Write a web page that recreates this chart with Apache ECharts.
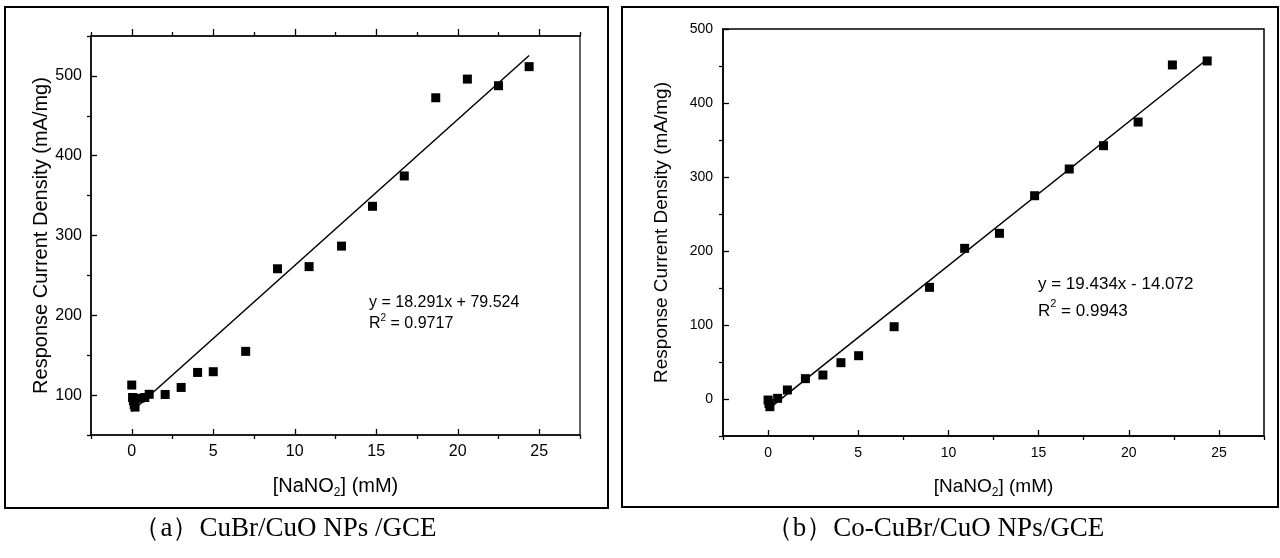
<!DOCTYPE html>
<html>
<head>
<meta charset="utf-8">
<script src="https://cdn.jsdelivr.net/npm/echarts@6/dist/echarts.min.js"></script>
<style>
html,body{margin:0;padding:0;background:#fff;}
#c{width:1280px;height:558px;}
</style>
</head>
<body>
<div id="c"></div>
<script>
// Panel (a) CuBr/CuO NPs /GCE
var xA = [0, 0.05, 0.1, 0.15, 0.2, 0.5, 0.8, 1.07, 2.05, 3.03, 4.04, 5.0, 6.99, 8.94, 10.88, 12.87, 14.77, 16.72, 18.65, 20.59, 22.5, 24.38];
var yA = [112.6, 97, 93, 88, 85, 96, 97, 101, 100.8, 109.6, 128.4, 129.3, 154.8, 258.3, 261, 286.7, 336.6, 374.6, 472.6, 496, 487.7, 511.6];
var fitA = [[0, 79.5], [24.38, 525.5]];
var eqA = 'y = 18.291x + 79.524';
var r2A = '0.9717';
// Panel (b) Co-CuBr/CuO NPs/GCE
var xB = [0, 0.05, 0.1, 0.53, 1.07, 2.07, 3.04, 4.04, 5.02, 6.99, 8.95, 10.9, 12.83, 14.78, 16.7, 18.6, 20.52, 22.42, 24.35];
var yB = [-1.4, -6, -10.4, 0.9, 12.2, 27.5, 32.4, 49.1, 58.5, 97.7, 150.9, 203.6, 223.9, 274.7, 310.8, 342.3, 374.3, 451.4, 456.8];
var fitB = [[0.1, -12.1], [24.35, 459.1]];
var eqB = 'y = 19.434x - 14.072';
var r2B = '0.9943';
// Axis ticks
var xMajor = [0, 5, 10, 15, 20, 25];
var xMinor = [-2.5, 2.5, 7.5, 12.5, 17.5, 22.5, 27.5];
var yMajorA = [100, 200, 300, 400, 500];
var yMinorA = [50, 150, 250, 350, 450, 550];
var yMajorB = [0, 100, 200, 300, 400, 500];
var yMinorB = [-50, 50, 150, 250, 350, 450];
var xTitle = '[NaNO{sub|2}] (mM)';
var yTitle = 'Response Current Density (mA/mg)';
var capA = '（a）CuBr/CuO NPs /GCE';
var capB = '（b）Co-CuBr/CuO NPs/GCE';

var FF = "'Liberation Sans', Arial, sans-serif";
var chart = echarts.init(document.getElementById('c'), null, {renderer: 'canvas'});

function pairs(xs, ys) { return xs.map(function (x, i) { return [x, ys[i]]; }); }

function xAxes(grid, fs, titleFs, gap, labelMargin, withTop) {
  var line = {show: true, onZero: false, lineStyle: {color: '#000', width: 1.5}};
  var axes = [
    {type: 'value', gridIndex: grid, position: 'bottom', min: -2.5, max: 27.5,
     axisLine: line, splitLine: {show: false},
     axisTick: {show: true, inside: true, length: 6, customValues: xMajor, lineStyle: {color: '#000', width: 1.3}},
     axisLabel: {customValues: xMajor, color: '#000', fontSize: fs, fontFamily: FF, margin: labelMargin},
     name: xTitle, nameLocation: 'middle', nameGap: gap,
     nameTextStyle: {color: '#000', fontSize: titleFs, fontFamily: FF,
       rich: {sub: {fontSize: Math.round(titleFs * 0.62), fontFamily: FF, color: '#000', verticalAlign: 'bottom', padding: [Math.round(titleFs * 0.7), 0, 0, 0]}}}},
    {type: 'value', gridIndex: grid, position: 'bottom', min: -2.5, max: 27.5,
     axisLine: {show: false, onZero: false}, splitLine: {show: false},
     axisTick: {show: true, inside: false, length: 4, customValues: xMinor, lineStyle: {color: '#000', width: 1.3}},
     axisLabel: {show: false}}
  ];
  if (withTop) {
    axes.push({type: 'value', gridIndex: grid, position: 'top', min: -2.5, max: 27.5,
      axisLine: line, splitLine: {show: false},
      axisTick: {show: true, inside: false, length: 7, customValues: xMajor, lineStyle: {color: '#000', width: 1.3}},
      axisLabel: {show: false}});
    axes.push({type: 'value', gridIndex: grid, position: 'top', min: -2.5, max: 27.5,
      axisLine: {show: false, onZero: false}, splitLine: {show: false},
      axisTick: {show: true, inside: false, length: 4, customValues: xMinor, lineStyle: {color: '#000', width: 1.3}},
      axisLabel: {show: false}});
  }
  return axes;
}

function yAxes(grid, mn, mx, major, minor, fs, titleFs, gap, labelMargin) {
  return [
    {type: 'value', gridIndex: grid, position: 'left', min: mn, max: mx,
     axisLine: {show: true, onZero: false, lineStyle: {color: '#000', width: 1.5}}, splitLine: {show: false},
     axisTick: {show: true, inside: true, length: 6, customValues: major, lineStyle: {color: '#000', width: 1.3}},
     axisLabel: {customValues: major, color: '#000', fontSize: fs, fontFamily: FF, margin: labelMargin},
     name: yTitle, nameLocation: 'middle', nameGap: gap, nameRotate: 90,
     nameTextStyle: {color: '#000', fontSize: titleFs, fontFamily: FF}},
    {type: 'value', gridIndex: grid, position: 'left', min: mn, max: mx,
     axisLine: {show: false, onZero: false}, splitLine: {show: false},
     axisTick: {show: true, inside: false, length: 4, customValues: minor, lineStyle: {color: '#000', width: 1.3}},
     axisLabel: {show: false}}
  ];
}

var xa = xAxes(0, 16, 20, 38, 9, true).concat(xAxes(1, 14, 19, 38, 10, false));
var ya = yAxes(0, 50, 550, yMajorA, yMinorA, 16, 20, 38, 9).concat(yAxes(1, -50, 500, yMajorB, yMinorB, 14, 19, 52, 10));
// indices: grid0 x: 0,1,2,3 ; grid1 x: 4,5 ; grid0 y: 0,1 ; grid1 y: 2,3

chart.setOption({
  backgroundColor: '#fff',
  animation: false,
  textStyle: {fontFamily: FF},
  grid: [
    {left: 91, top: 36, width: 489, height: 399, show: true, borderColor: '#000', borderWidth: 1.2, backgroundColor: 'transparent'},
    {left: 723, top: 29, width: 541, height: 407, show: true, borderColor: '#000', borderWidth: 1.5, backgroundColor: 'transparent'}
  ],
  xAxis: xa,
  yAxis: ya,
  title: [
    {text: eqA + '\nR{sup|2} = ' + r2A, left: 369, top: 292, padding: 0,
     textStyle: {color: '#000', fontSize: 16, fontWeight: 'normal', fontFamily: FF, lineHeight: 21,
       rich: {sup: {fontSize: 10, fontFamily: FF, color: '#000', verticalAlign: 'top', lineHeight: 21, padding: [0, 0, 8, 0]}}}},
    {text: eqB + '\nR{sup|2} = ' + r2B, left: 1038, top: 271, padding: 0,
     textStyle: {color: '#000', fontSize: 17, fontWeight: 'normal', fontFamily: FF, lineHeight: 27,
       rich: {sup: {fontSize: 11, fontFamily: FF, color: '#000', verticalAlign: 'top', lineHeight: 27, padding: [0, 0, 9, 0]}}}},
    {text: capA, left: 285, top: 515, textAlign: 'center', padding: 0,
     textStyle: {color: '#000', fontSize: 27, fontWeight: 'normal', fontFamily: "'Liberation Serif', 'Times New Roman', serif"}},
    {text: capB, left: 935, top: 515, textAlign: 'center', padding: 0,
     textStyle: {color: '#000', fontSize: 27, fontWeight: 'normal', fontFamily: "'Liberation Serif', 'Times New Roman', serif"}}
  ],
  graphic: [
    {type: 'rect', shape: {x: 5, y: 7, width: 603, height: 501}, style: {fill: 'none', stroke: '#000', lineWidth: 2}, silent: true},
    {type: 'rect', shape: {x: 622, y: 7, width: 656, height: 500}, style: {fill: 'none', stroke: '#000', lineWidth: 2}, silent: true}
  ],
  series: [
    {type: 'line', xAxisIndex: 0, yAxisIndex: 0, data: fitA, showSymbol: false, lineStyle: {color: '#000', width: 1.5}, z: 2},
    {type: 'scatter', xAxisIndex: 0, yAxisIndex: 0, data: pairs(xA, yA), symbol: 'rect', symbolSize: 9, itemStyle: {color: '#000', opacity: 1}, z: 3},
    {type: 'line', xAxisIndex: 4, yAxisIndex: 2, data: fitB, showSymbol: false, lineStyle: {color: '#000', width: 1.5}, z: 2},
    {type: 'scatter', xAxisIndex: 4, yAxisIndex: 2, data: pairs(xB, yB), symbol: 'rect', symbolSize: 9, itemStyle: {color: '#000', opacity: 1}, z: 3}
  ]
});
</script>
</body>
</html>
